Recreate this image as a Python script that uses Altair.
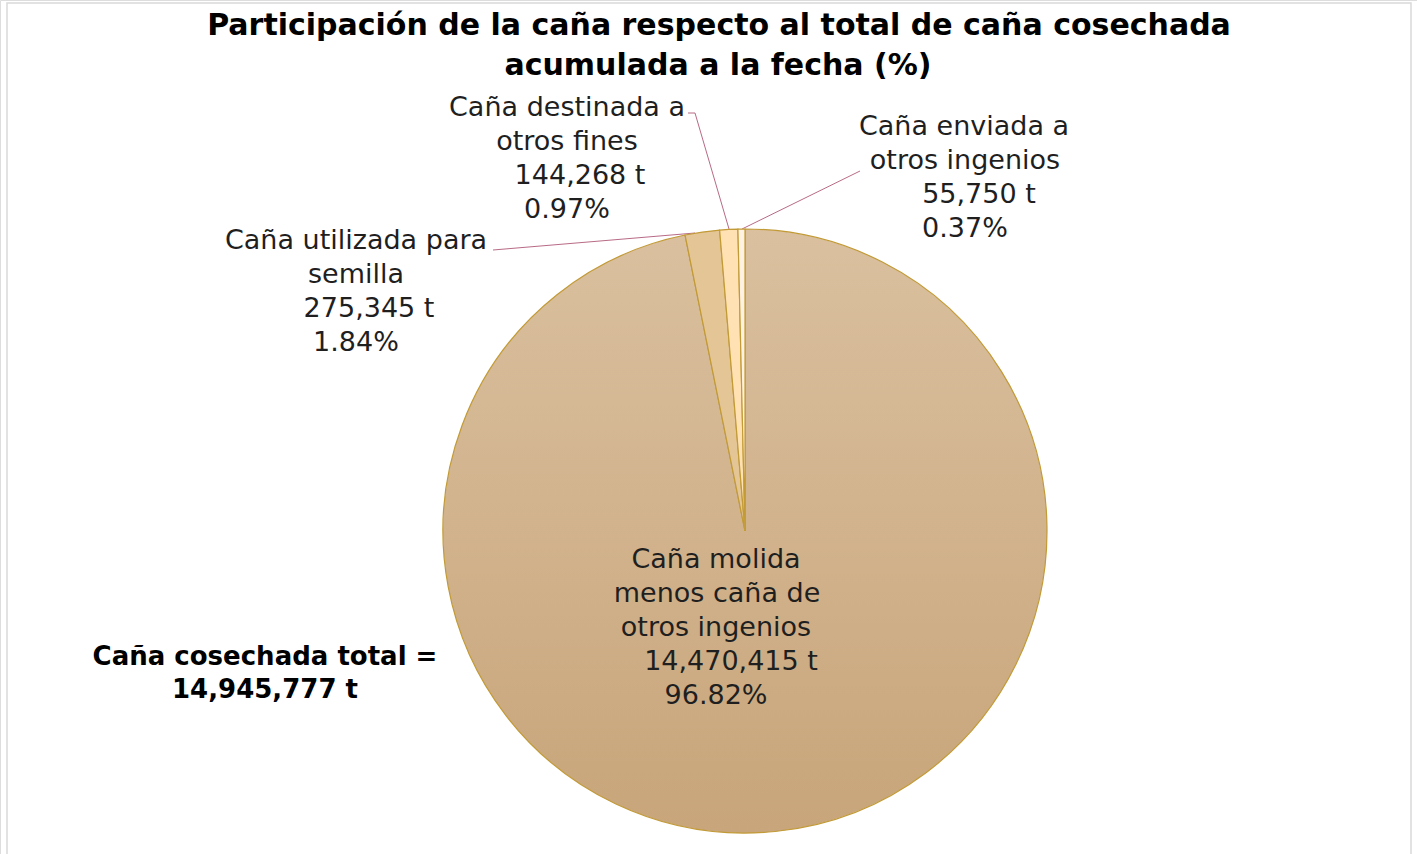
import altair as alt
import pandas as pd

categories = [
    "Caña molida menos caña de otros ingenios",
    "Caña utilizada para semilla",
    "Caña destinada a otros fines",
    "Caña enviada a otros ingenios",
]
tons = [14470415, 275345, 144268, 55750]
percents = ["96.82%", "1.84%", "0.97%", "0.37%"]
total_label = "14,945,777 t"
title_lines = ["Participación de la caña respecto al total de caña cosechada",
               "acumulada a la fecha (%)"]

df = pd.DataFrame({"cat": categories, "t": tons, "idx": list(range(len(tons)))})

FONT = "DejaVu Sans"
W, H = 1417, 854
CX, CY, R = 745, 531, 302

slice_colors = ["#D4B690", "#E4C596", "#FFE1B3", "#FFF2E2"]

grad = alt.LinearGradient(
    gradient="linear",
    stops=[alt.GradientStop(color="#DAC09F", offset=0),
           alt.GradientStop(color="#C8A57A", offset=1)],
    x1=0, x2=0, y1=0, y2=1,
)

pie = alt.Chart(df).mark_arc(outerRadius=R, stroke="#C29A36", strokeWidth=1.2).encode(
    theta=alt.Theta("t:Q", stack=True),
    order=alt.Order("idx:Q", sort="ascending"),
    fill=alt.condition(
        alt.datum.idx == 0,
        alt.value(grad),
        alt.Fill("cat:N", scale=alt.Scale(domain=categories, range=slice_colors), legend=None),
    ),
    x=alt.value(CX),
    y=alt.value(CY),
)

def fmt(n):
    return f"{n:,}"

layers = []

border = alt.Chart(pd.DataFrame({"a": [0]})).mark_rect(
    fill=None, stroke="#D9D9D9", strokeWidth=1.5
).encode(x=alt.value(7), x2=alt.value(1411), y=alt.value(3), y2=alt.value(900))
layers.append(border)

def rule(x1, y1, x2, y2):
    return alt.Chart(pd.DataFrame({"a": [0]})).mark_rule(
        color="#B86A86", strokeWidth=1
    ).encode(x=alt.value(x1), y=alt.value(y1), x2=alt.value(x2), y2=alt.value(y2))

layers += [
    rule(493, 250, 695, 233),
    rule(688, 113, 695, 113),
    rule(695, 113, 729, 229),
    rule(860, 171, 742, 229),
]

layers.append(pie)

LS = 27

def txt(s, x, y, size=LS, bold=False, color="#1F1F1F"):
    return alt.Chart(pd.DataFrame({"s": [s]})).mark_text(
        font=FONT, fontSize=size, fontWeight="bold" if bold else "normal",
        color=color, align="center", baseline="middle",
    ).encode(text="s:N", x=alt.value(x), y=alt.value(y))

# title
layers.append(txt(title_lines[0], 719, 26, size=30, bold=True, color="#000000"))
layers.append(txt(title_lines[1], 718, 66, size=30, bold=True, color="#000000"))

# main slice label
layers += [
    txt("Caña molida", 716, 560),
    txt("menos caña de", 717, 594),
    txt("otros ingenios", 716, 628),
    txt(fmt(tons[0]) + "  t", 731, 662),
    txt(percents[0], 716, 696),
]
# seed
layers += [
    txt("Caña utilizada para", 356, 241),
    txt("semilla", 356, 275),
    txt(fmt(tons[1]) + " t", 369, 309),
    txt(percents[1], 356, 343),
]
# otros fines
layers += [
    txt("Caña destinada a", 567, 108),
    txt("otros fines", 567, 142),
    txt(fmt(tons[2]) + " t", 580, 176),
    txt(percents[2], 567, 210),
]
# enviada
layers += [
    txt("Caña enviada a", 964, 127),
    txt("otros ingenios", 965, 161),
    txt(fmt(tons[3]) + " t", 979, 195),
    txt(percents[3], 965, 229),
]
# total
layers += [
    txt("Caña cosechada total =", 265, 657, size=26, bold=True, color="#000000"),
    txt(total_label, 265, 690, size=26, bold=True, color="#000000"),
]

chart = alt.layer(*layers).properties(
    width=W, height=H, padding=0, autosize=alt.AutoSizeParams(type="none")
).configure_view(stroke=None).configure(background="white")

chart.save("out.html", embed_options={"renderer": "svg", "actions": False})
